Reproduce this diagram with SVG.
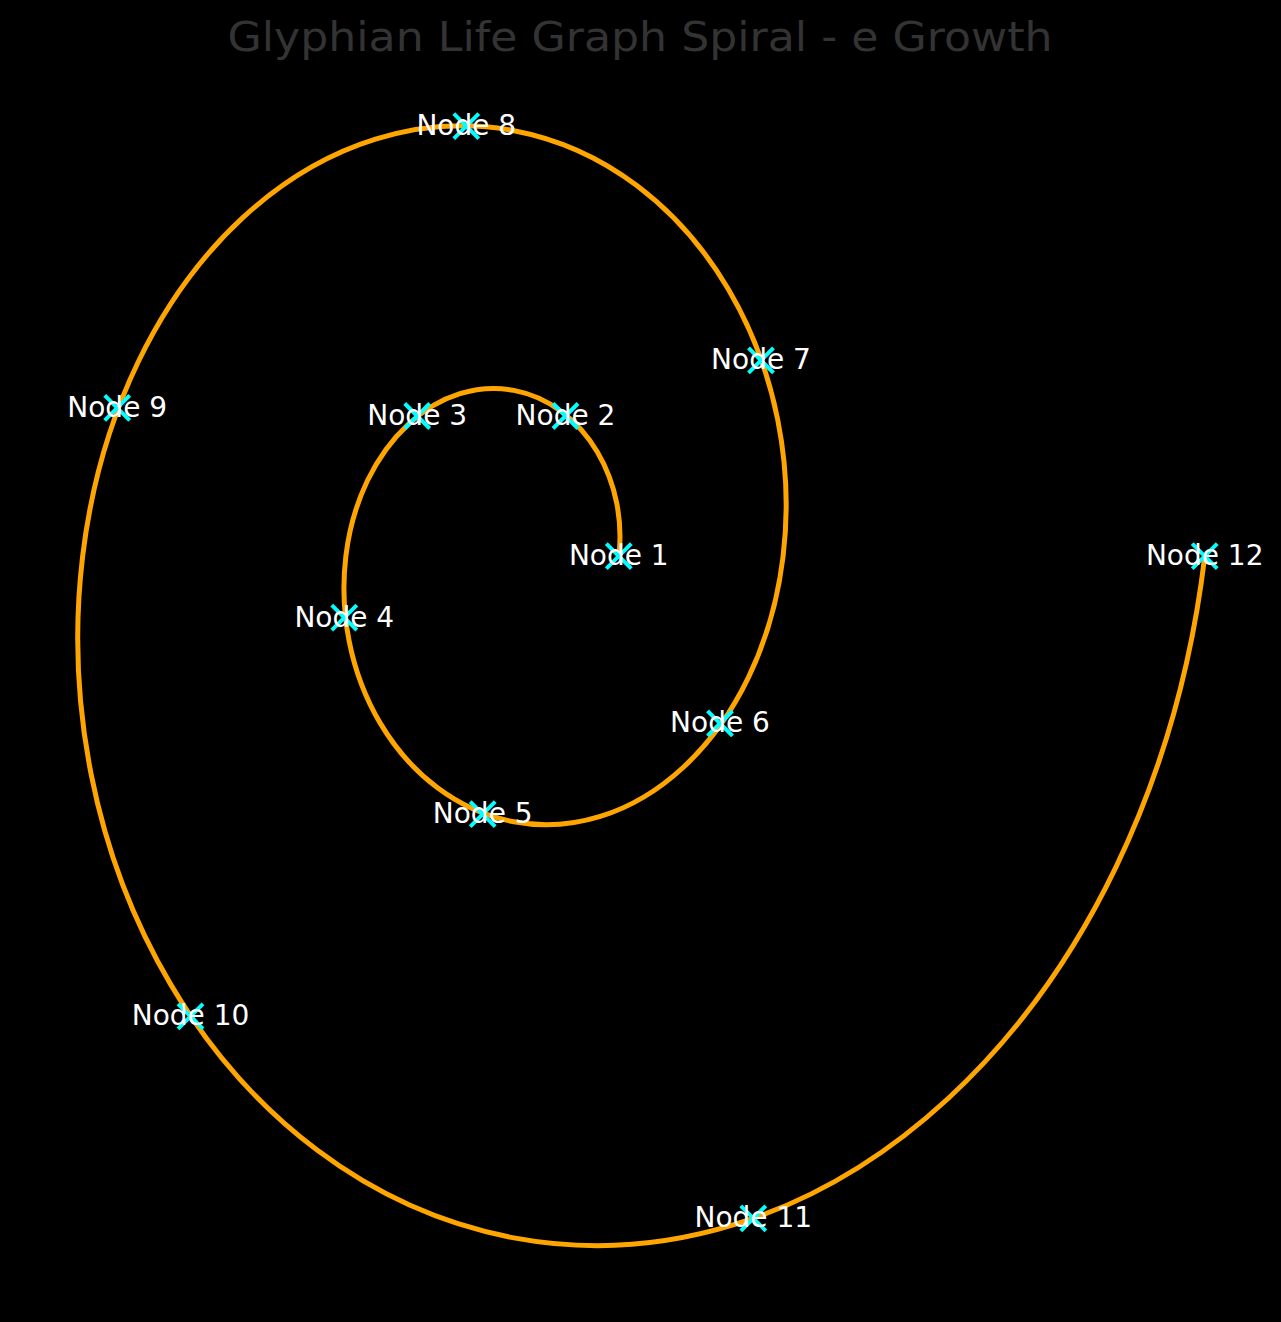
<svg xmlns="http://www.w3.org/2000/svg" xmlns:xlink="http://www.w3.org/1999/xlink" width="1281" height="1322" viewBox="0 0 1281 1322">
<style>
.title{font-family:"DejaVu Sans","Liberation Sans",sans-serif;font-size:41px;fill:#333333;text-anchor:middle}
.lbl{font-family:"DejaVu Sans","Liberation Sans",sans-serif;font-size:28px;fill:#ffffff;text-anchor:middle}
.spiral{fill:none;stroke:#FFA500;stroke-width:5;stroke-linejoin:round;stroke-linecap:butt}
.mk{fill:none;stroke:#00FFFF;stroke-width:4;stroke-linecap:butt}
</style>
<defs>
<path id="xm" class="mk" d="M-12.5,-12.5L12.5,12.5M-12.5,12.5L12.5,-12.5"/>
</defs>
<rect x="0" y="0" width="1281" height="1322" fill="#000000"/>
<text class="title" x="640" y="51" textLength="825" lengthAdjust="spacingAndGlyphs">Glyphian Life Graph Spiral - e Growth</text>
<g id="connectors">
<path class="spiral" vector-effect="non-scaling-stroke" transform="matrix(104.9,0,0,-131,513.9,556.2)" d="M1,0 C1.039782,0.265216 0.974853,0.552886 0.795516,0.795516 C0.616179,1.038146 0.335682,1.215341 0,1.265693 C-0.335682,1.316045 -0.699783,1.233864 -1.006879,1.006879 C-1.313975,0.779894 -1.538248,0.424871 -1.601978,0 C-1.665708,-0.424871 -1.561692,-0.885711 -1.274399,-1.274399 C-0.987106,-1.663087 -0.537754,-1.946946 0,-2.027608 C0.537754,-2.10827 1.121035,-1.976618 1.612994,-1.612994 C2.104953,-1.24937 2.464238,-0.680633 2.566332,0 C2.668426,0.680633 2.501797,1.418889 2.04156,2.04156 C1.581323,2.664231 0.861472,3.11897 0,3.248189 C-0.861472,3.377408 -1.795878,3.166508 -2.583989,2.583989 C-3.3721,2.00147 -3.947655,1.090358 -4.111207,0 C-4.274759,-1.090358 -4.007826,-2.273031 -3.270536,-3.270536 C-2.533246,-4.268041 -1.380059,-4.99652 0,-5.203527 C1.380059,-5.410534 2.876957,-5.072674 4.139492,-4.139492 C5.402027,-3.20631 6.324058,-1.74673 6.586065,0"/>
</g>
<g id="node1"><use xlink:href="#xm" href="#xm" transform="translate(618.8,556.2)"/><text class="lbl" x="618.8" y="565.2">Node 1</text></g>
<g id="node2"><use xlink:href="#xm" href="#xm" transform="translate(565.5,416)"/><text class="lbl" x="565.5" y="425">Node 2</text></g>
<g id="node3"><use xlink:href="#xm" href="#xm" transform="translate(417.2,416)"/><text class="lbl" x="417.2" y="425">Node 3</text></g>
<g id="node4"><use xlink:href="#xm" href="#xm" transform="translate(344.3,617.7)"/><text class="lbl" x="344.3" y="626.7">Node 4</text></g>
<g id="node5"><use xlink:href="#xm" href="#xm" transform="translate(482.7,814.2)"/><text class="lbl" x="482.7" y="823.2">Node 5</text></g>
<g id="node6"><use xlink:href="#xm" href="#xm" transform="translate(720,723.3)"/><text class="lbl" x="720" y="732.3">Node 6</text></g>
<g id="node7"><use xlink:href="#xm" href="#xm" transform="translate(761,360.4)"/><text class="lbl" x="761" y="369.4">Node 7</text></g>
<g id="node8"><use xlink:href="#xm" href="#xm" transform="translate(466.3,126.2)"/><text class="lbl" x="466.3" y="135.2">Node 8</text></g>
<g id="node9"><use xlink:href="#xm" href="#xm" transform="translate(117.2,407.8)"/><text class="lbl" x="117.2" y="416.8">Node 9</text></g>
<g id="node10"><use xlink:href="#xm" href="#xm" transform="translate(190.5,1016.3)"/><text class="lbl" x="190.5" y="1025.3">Node 10</text></g>
<g id="node11"><use xlink:href="#xm" href="#xm" transform="translate(753.3,1218.3)"/><text class="lbl" x="753.3" y="1227.3">Node 11</text></g>
<g id="node12"><use xlink:href="#xm" href="#xm" transform="translate(1204.7,556.2)"/><text class="lbl" x="1204.7" y="565.2">Node 12</text></g>
</svg>
